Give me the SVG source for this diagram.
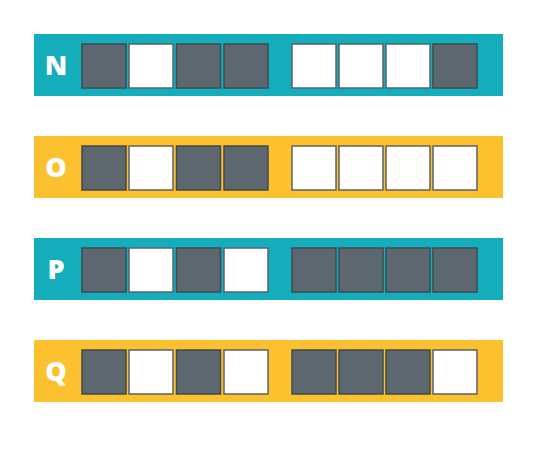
<svg xmlns="http://www.w3.org/2000/svg" width="535" height="452" viewBox="0 0 535 452">
<style>
.bar-t{fill:#14adbc}
.bar-y{fill:#fdc02e}
.d{fill:#5d6770;stroke:#3f4a52;stroke-width:1.5}
.w{fill:#ffffff;stroke:#5a6268;stroke-width:1.5}
.lbl{font-family:"Open Sans","Liberation Sans",sans-serif;font-weight:800;font-size:27px;fill:#ffffff;text-anchor:middle}
</style>
<rect width="535" height="452" fill="#ffffff"/>
<g id="row-N" transform="translate(0,34)">
<rect class="bar-t" x="34" y="0" width="469" height="62"/>
<text class="lbl" x="56" y="41">N</text>
<rect class="d" x="82" y="10" width="44" height="44"/>
<rect class="w" x="129" y="10" width="44" height="44"/>
<rect class="d" x="176.5" y="10" width="44" height="44"/>
<rect class="d" x="224" y="10" width="44" height="44"/>
<rect class="w" x="292" y="10" width="44" height="44"/>
<rect class="w" x="339" y="10" width="44" height="44"/>
<rect class="w" x="386" y="10" width="44" height="44"/>
<rect class="d" x="433" y="10" width="44" height="44"/>
</g>
<g id="row-O" transform="translate(0,136)">
<rect class="bar-y" x="34" y="0" width="469" height="62"/>
<text class="lbl" x="56" y="41">O</text>
<rect class="d" x="82" y="10" width="44" height="44"/>
<rect class="w" x="129" y="10" width="44" height="44"/>
<rect class="d" x="176.5" y="10" width="44" height="44"/>
<rect class="d" x="224" y="10" width="44" height="44"/>
<rect class="w" x="292" y="10" width="44" height="44"/>
<rect class="w" x="339" y="10" width="44" height="44"/>
<rect class="w" x="386" y="10" width="44" height="44"/>
<rect class="w" x="433" y="10" width="44" height="44"/>
</g>
<g id="row-P" transform="translate(0,238)">
<rect class="bar-t" x="34" y="0" width="469" height="62"/>
<text class="lbl" x="56" y="41">P</text>
<rect class="d" x="82" y="10" width="44" height="44"/>
<rect class="w" x="129" y="10" width="44" height="44"/>
<rect class="d" x="176.5" y="10" width="44" height="44"/>
<rect class="w" x="224" y="10" width="44" height="44"/>
<rect class="d" x="292" y="10" width="44" height="44"/>
<rect class="d" x="339" y="10" width="44" height="44"/>
<rect class="d" x="386" y="10" width="44" height="44"/>
<rect class="d" x="433" y="10" width="44" height="44"/>
</g>
<g id="row-Q" transform="translate(0,340)">
<rect class="bar-y" x="34" y="0" width="469" height="62"/>
<text class="lbl" x="56" y="41">Q</text>
<rect class="d" x="82" y="10" width="44" height="44"/>
<rect class="w" x="129" y="10" width="44" height="44"/>
<rect class="d" x="176.5" y="10" width="44" height="44"/>
<rect class="w" x="224" y="10" width="44" height="44"/>
<rect class="d" x="292" y="10" width="44" height="44"/>
<rect class="d" x="339" y="10" width="44" height="44"/>
<rect class="d" x="386" y="10" width="44" height="44"/>
<rect class="w" x="433" y="10" width="44" height="44"/>
</g>
<g id="connectors"/>
</svg>
